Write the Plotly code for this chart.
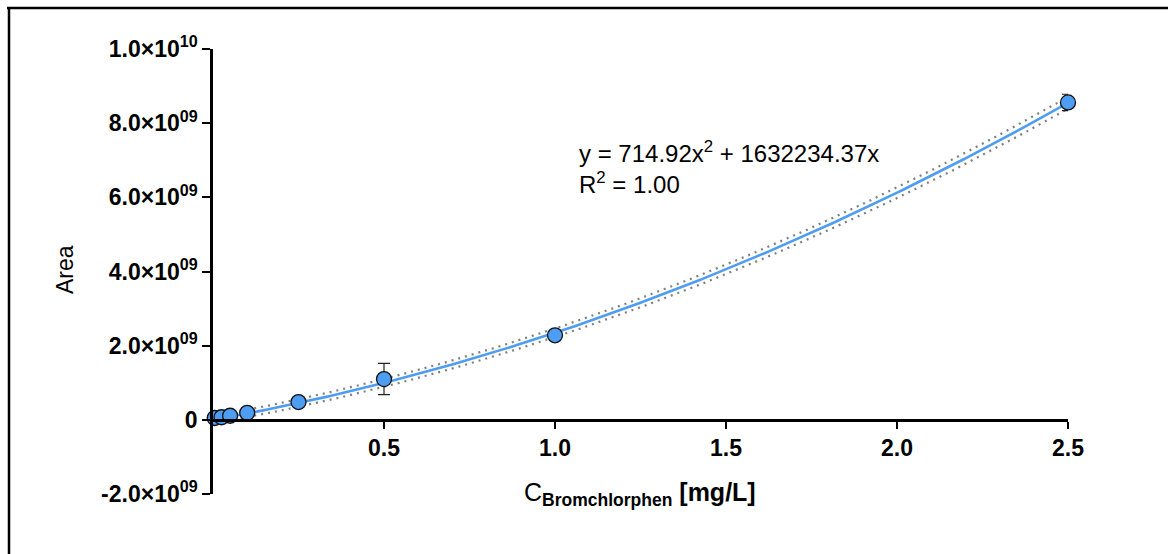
import plotly.graph_objects as go
import numpy as np

# Calibration data: concentration (mg/L), mean peak area and SD
conc_mg_l = [0.005, 0.025, 0.05, 0.1, 0.25, 0.5, 1.0, 2.5]
area_mean = [0.05e9, 0.07e9, 0.11e9, 0.19e9, 0.48e9, 1.10e9, 2.28e9, 8.56e9]
area_sd = [0.0, 0.0, 0.0, 0.0, 0.0, 0.42e9, 0.0, 0.22e9]

# Quadratic fit through origin (x in µg/L)
fit_a = 714.92
fit_b = 1632234.37
fit_r2 = "1.00"
# Confidence band half-width: constant part + part relative to the fit
band_const = 0.098e9
band_rel = 0.0073

y_tickvals = [-2e9, 0, 2e9, 4e9, 6e9, 8e9, 1e10]
y_ticktext = ["-2.0×10<sup>09</sup>", "0", "2.0×10<sup>09</sup>", "4.0×10<sup>09</sup>",
              "6.0×10<sup>09</sup>", "8.0×10<sup>09</sup>", "1.0×10<sup>10</sup>"]
x_tickvals = [0.5, 1.0, 1.5, 2.0, 2.5]
x_ticktext = ["0.5", "1.0", "1.5", "2.0", "2.5"]

FONT = "Liberation Sans, Arial, sans-serif"
BLUE = "#4d9df2"

xs = np.linspace(0, 2.5, 300)
fit = fit_a * (xs * 1000) ** 2 + fit_b * (xs * 1000)
half = band_const + band_rel * fit

fig = go.Figure()
fig.add_trace(go.Scatter(x=xs, y=fit + half, mode="lines",
                         line=dict(color="#7f7f7f", width=2.2, dash="2px,5px"),
                         hoverinfo="skip", showlegend=False))
fig.add_trace(go.Scatter(x=xs, y=fit - half, mode="lines",
                         line=dict(color="#7f7f7f", width=2.2, dash="2px,5px"),
                         hoverinfo="skip", showlegend=False))
fig.add_trace(go.Scatter(x=xs, y=fit, mode="lines",
                         line=dict(color=BLUE, width=2.6),
                         hoverinfo="skip", showlegend=False))
fig.add_trace(go.Scatter(x=conc_mg_l, y=area_mean, mode="markers", cliponaxis=False,
                         marker=dict(size=15, color=BLUE, line=dict(color="#111111", width=1.3)),
                         error_y=dict(type="data", array=area_sd, visible=True,
                                      color="#222222", thickness=1.2, width=6),
                         showlegend=False))

# plot area in pixels: x 213..1068, y 49..494
L, R, T, B = 213, 1068, 49, 494
W, H = 1168, 554


def px(xp):
    return (xp - L) / (R - L)


def py(yp):
    return (B - yp) / (B - T)


fig.update_layout(
    width=W, height=H,
    margin=dict(l=L, r=W - R, t=T, b=H - B),
    paper_bgcolor="white", plot_bgcolor="white",
    font=dict(family=FONT, color="black"),
    xaxis=dict(range=[0, 2.5], anchor="free", position=2 / 12,
               showline=True, linecolor="black", linewidth=2.5,
               ticks="outside", ticklen=7, tickwidth=2, tickcolor="black",
               tickvals=x_tickvals, ticktext=[f"<b>{t}</b>" for t in x_ticktext],
               tickfont=dict(size=23, family=FONT),
               showgrid=False, zeroline=False),
    yaxis=dict(range=[-2e9, 1e10],
               showline=True, linecolor="black", linewidth=2.5,
               ticks="outside", ticklen=8, tickwidth=2, tickcolor="black",
               tickvals=y_tickvals, ticktext=[f"<b>{t}</b>" for t in y_ticktext],
               tickfont=dict(size=23, family=FONT),
               showgrid=False, zeroline=False),
)

# axis titles
fig.add_annotation(x=px(50), y=py(270), xref="paper", yref="paper",
                   text="Area", textangle=-90, showarrow=False,
                   font=dict(size=23, family=FONT))
fig.add_annotation(x=px(640), y=py(512), xref="paper", yref="paper",
                   text="C<sub><b>Bromchlorphen</b></sub> <b>[mg/L]</b>", showarrow=False,
                   font=dict(size=25, family=FONT))

# fit equation
fig.add_annotation(x=px(577), y=py(135), xref="paper", yref="paper",
                   xanchor="left", yanchor="top", align="left", showarrow=False,
                   text=f"y = {fit_a:.2f}x<sup>2</sup> + {fit_b:.2f}x<br>R<sup>2</sup> = {fit_r2}",
                   font=dict(size=24, family=FONT))

# frame lines on top and left
fig.add_shape(type="line", xref="paper", yref="paper",
              x0=px(7), x1=px(1168), y0=py(8), y1=py(8),
              line=dict(color="black", width=2.5))
fig.add_shape(type="line", xref="paper", yref="paper",
              x0=px(9), x1=px(9), y0=py(7), y1=py(554),
              line=dict(color="black", width=2.5))

fig.write_html("out.html")
